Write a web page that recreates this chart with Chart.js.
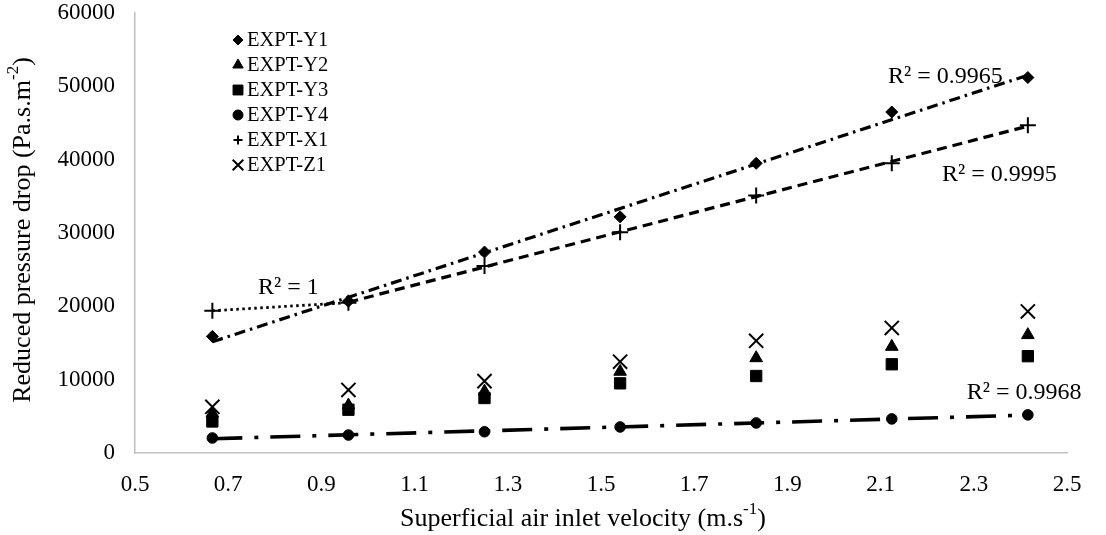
<!DOCTYPE html>
<html>
<head>
<meta charset="utf-8">
<script src="https://cdn.jsdelivr.net/npm/chart.js@4/dist/chart.umd.min.js"></script>
<style>
  html, body { margin: 0; padding: 0; background: #fff; }
  #contenedor { width: 1106px; height: 535px; }
</style>
</head>
<body>
<div id="contenedor"><canvas id="grafico"></canvas></div>
<script>
// Datos
const velocidad = [0.666, 0.958, 1.25, 1.541, 1.833, 2.124, 2.416];
const exptY1 = [15900, 20700, 27400, 32200, 39500, 46500, 51200];
const exptY2 = [5400, 6500, 8400, 11100, 12950, 14500, 16100];
const exptY3 = [4300, 5900, 7500, 9500, 10500, 12100, 13200];
const exptY4 = [2050, 2450, 2900, 3550, 4100, 4650, 5200];
const exptX1 = [19400, 20500, 25500, 30100, 35100, 39500, 44700];
const exptZ1 = [6300, 8600, 9800, 12450, 15300, 17050, 19300];

const ticksX = [0.5, 0.7, 0.9, 1.1, 1.3, 1.5, 1.7, 1.9, 2.1, 2.3, 2.5];
const ticksY = [0, 10000, 20000, 30000, 40000, 50000, 60000];

const nombres = ["EXPT-Y1", "EXPT-Y2", "EXPT-Y3", "EXPT-Y4", "EXPT-X1", "EXPT-Z1"];

// Etiquetas R² (texto y punto de anclaje en unidades de los ejes)
const textosR2 = ["R² = 0.9965", "R² = 0.9995", "R² = 1", "R² = 0.9968"];
const anclaR2X = [2.116, 2.232, 0.764, 2.285];
const anclaR2Y = [51300, 37900, 22600, 8200];

const fuente = "'Liberation Serif', 'Times New Roman', serif";
const negro = "#000000";

const puntos = (ys) => velocidad.map((v, i) => ({ x: v, y: ys[i] }));

// Recta de minimos cuadrados entre el primer y el ultimo punto del tramo
function tendencia(xs, ys) {
  const n = xs.length;
  const mx = xs.reduce((a, b) => a + b, 0) / n;
  const my = ys.reduce((a, b) => a + b, 0) / n;
  let sxy = 0, sxx = 0;
  for (let i = 0; i < n; i++) {
    sxy += (xs[i] - mx) * (ys[i] - my);
    sxx += (xs[i] - mx) * (xs[i] - mx);
  }
  const b = sxy / sxx;
  const a = my - b * mx;
  return [xs[0], xs[n - 1]].map(x => ({ x: x, y: a + b * x }));
}

function serie(label, ys, estilo, radio, borde, radioLeyenda) {
  return {
    type: "scatter",
    label: label,
    data: puntos(ys),
    pointStyle: estilo,
    pointRadius: radio,
    pointHoverRadius: radio,
    backgroundColor: negro,
    borderColor: negro,
    borderWidth: borde,
    enLeyenda: true,
    radioLeyenda: radioLeyenda
  };
}

function linea(datos, dash, ancho) {
  return {
    type: "line",
    label: "",
    data: datos,
    borderColor: negro,
    borderWidth: ancho,
    borderDash: dash,
    pointRadius: 0,
    fill: false,
    tension: 0
  };
}

const datasets = [
  serie(nombres[0], exptY1, "rectRot", 6, 1, 5),
  serie(nombres[1], exptY2, "triangle", 7.3, 1, 6),
  serie(nombres[2], exptY3, "rect", 8, 1, 7),
  serie(nombres[3], exptY4, "circle", 5.3, 1, 5),
  serie(nombres[4], exptX1, "cross", 8, 2, 4.5),
  serie(nombres[5], exptZ1, "crossRot", 10, 2, 7.5),
  linea(tendencia(velocidad, exptY1), [11, 5, 2.5, 5], 3.2),
  linea(tendencia(velocidad.slice(1), exptX1.slice(1)), [10, 6], 3.2),
  linea(tendencia(velocidad.slice(0, 2), exptX1.slice(0, 2)), [2.5, 3.5], 2.8),
  linea(tendencia(velocidad, exptY4), [30, 12, 4, 12], 3.6)
];

// Leyenda dentro del area del grafico, arriba a la izquierda
const leyendaPlugin = {
  id: "leyendaInterna",
  afterDraw(chart) {
    const ctx = chart.ctx;
    const area = chart.chartArea;
    const x0 = area.left + 103;
    const y0 = area.top + 27;
    ctx.save();
    ctx.font = "20.5px " + fuente;
    ctx.fillStyle = negro;
    ctx.textBaseline = "middle";
    ctx.textAlign = "left";
    let fila = 0;
    chart.data.datasets.forEach(ds => {
      if (!ds.enLeyenda) return;
      const y = y0 + fila * 25;
      ctx.fillStyle = negro;
      ctx.strokeStyle = negro;
      ctx.lineWidth = ds.borderWidth;
      Chart.helpers.drawPoint(ctx, { pointStyle: ds.pointStyle, radius: ds.radioLeyenda, borderWidth: ds.borderWidth, rotation: 0 }, x0, y);
      ctx.fillText(ds.label, x0 + 9, y + 1);
      fila++;
    });
    ctx.restore();
  }
};

// Texto con superindice, centrado en x
function textoConSup(ctx, partes, x, y, tam) {
  let ancho = 0;
  partes.forEach(p => {
    ctx.font = (p[1] ? Math.round(tam * 0.65) : tam) + "px " + fuente;
    ancho += ctx.measureText(p[0]).width;
  });
  let cx = x - ancho / 2;
  partes.forEach(p => {
    ctx.font = (p[1] ? Math.round(tam * 0.65) : tam) + "px " + fuente;
    ctx.fillText(p[0], cx, p[1] ? y - tam * 0.35 : y);
    cx += ctx.measureText(p[0]).width;
  });
}

const textosPlugin = {
  id: "textos",
  afterDraw(chart) {
    const ctx = chart.ctx;
    const sx = chart.scales.x;
    const sy = chart.scales.y;
    ctx.save();
    ctx.fillStyle = negro;
    ctx.textBaseline = "middle";
    ctx.textAlign = "left";
    ctx.font = "24px " + fuente;
    textosR2.forEach((t, i) => {
      ctx.fillText(t, sx.getPixelForValue(anclaR2X[i]), sy.getPixelForValue(anclaR2Y[i]));
    });

    // titulo eje X
    textoConSup(ctx, [["Superficial air inlet velocity (m.s", false], ["-1", true], [")", false]], 583, 519, 26);

    // titulo eje Y
    ctx.translate(23, 230);
    ctx.rotate(-Math.PI / 2);
    textoConSup(ctx, [["Reduced pressure drop (Pa.s.m", false], ["-2", true], [")", false]], 0, 0, 26);
    ctx.restore();
  }
};

const ctx = document.getElementById("grafico").getContext("2d");
new Chart(ctx, {
  data: { datasets: datasets },
  options: {
    responsive: true,
    maintainAspectRatio: false,
    animation: false,
    layout: { padding: { top: 13, right: 39, left: 0, bottom: 0 } },
    plugins: {
      legend: { display: false },
      tooltip: { enabled: false }
    },
    scales: {
      x: {
        type: "linear",
        min: 0.5,
        max: 2.5,
        afterBuildTicks: s => { s.ticks = ticksX.map(v => ({ value: v })); },
        afterFit: s => { s.height = 82; s.paddingLeft = 0; s.paddingRight = 0; },
        grid: { display: false, drawTicks: false },
        border: { display: true, color: "#bfbfbf", width: 1.5 },
        ticks: {
          color: negro,
          padding: 18,
          maxRotation: 0,
          font: { family: fuente, size: 23 },
          callback: v => v.toFixed(1)
        }
      },
      y: {
        type: "linear",
        min: 0,
        max: 60000,
        afterBuildTicks: s => { s.ticks = ticksY.map(v => ({ value: v })); },
        afterFit: s => { s.width = 135; s.paddingTop = 0; s.paddingBottom = 0; },
        grid: { display: false, drawTicks: false },
        border: { display: true, color: "#bfbfbf", width: 1.5 },
        ticks: {
          color: negro,
          padding: 20,
          font: { family: fuente, size: 23 },
          callback: v => String(v)
        }
      }
    }
  },
  plugins: [leyendaPlugin, textosPlugin]
});
</script>
</body>
</html>
